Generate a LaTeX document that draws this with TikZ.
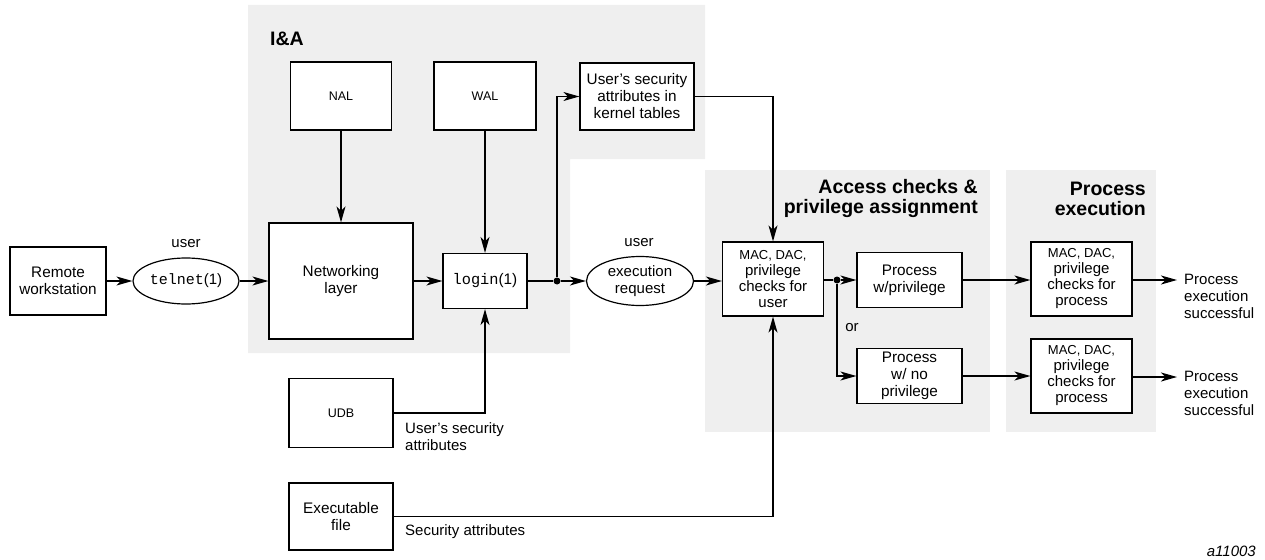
\documentclass[tikz,border=0pt]{standalone}
\usepackage{fontspec}
\setmainfont{Liberation Sans}
\newfontfamily\mono{Liberation Mono}
\usetikzlibrary{arrows.meta,shapes.geometric}
\definecolor{zone}{RGB}{239,239,239}
\tikzset{
  box/.style={draw, line width=1.2pt, fill=white, inner sep=0pt, align=center,
    font=\fontsize{15.3}{17}\selectfont},
  smallbox/.style={box, font=\fontsize{12.5}{15}\selectfont},
  checkbox/.style={box, minimum width=101pt, minimum height=74pt,
    font=\fontsize{15}{16}\selectfont},
  oval/.style={ellipse, draw, line width=1.2pt, fill=white, inner sep=0pt, align=center,
    font=\fontsize{15}{17}\selectfont},
  lbl/.style={inner sep=0pt, align=left, font=\fontsize{15}{17}\selectfont},
  title/.style={inner sep=0pt, align=right, font={\bfseries\fontsize{19.5}{20}\selectfont}},
  arr/.style={line width=1.2pt, -{Stealth[length=16pt,width=9pt,inset=4.5pt]}},
  wire/.style={line width=1.2pt},
  junction/.style={circle, fill, inner sep=0pt, minimum size=7pt},
}
\begin{document}
\begin{tikzpicture}[x=1pt,y=-1pt]
\useasboundingbox (0,0) rectangle (1265,559);

% shaded zones
\fill[zone] (248,5) -- (705,5) -- (705,159) -- (570,159) -- (570,353) -- (248,353) -- cycle;
\fill[zone] (705,170) rectangle (990,432);
\fill[zone] (1006,170) rectangle (1156,432);

% zone titles
\node[title, anchor=west] (tIA) at (270,39) {I\&A};
\node[title, anchor=east] (tAC) at (978,198.5) {Access checks \&\\privilege assignment};
\node[title, anchor=east] (tPE) at (1146,198.5) {Process\\execution};

% login path
\node[box, minimum width=96pt, minimum height=68pt] (rw) at (58,281) {Remote\\workstation};
\node[oval, minimum width=106pt, minimum height=46pt] (telnet) at (186,281) {{\mono telnet}(1)};
\node[lbl] (user1) at (186,244) {user};
\node[box, minimum width=144pt, minimum height=116pt] (net) at (341,281) {Networking\\layer};
\node[smallbox, minimum width=101pt, minimum height=68pt] (nal) at (341,96) {NAL};
\node[smallbox, minimum width=102pt, minimum height=68pt] (wal) at (485,96) {WAL};
\node[box, minimum width=114pt, minimum height=67pt] (usa) at (637,96.5) {User's security\\attributes in\\kernel tables};
\node[box, minimum width=84pt, minimum height=55pt] (login) at (485,281) {{\mono login}(1)};
\node[junction] (dot1) at (557,281) {};
\node[lbl] (user2) at (639,243) {user};
\node[oval, minimum width=107pt, minimum height=49pt] (exreq) at (640,281) {execution\\request};

% access checks
\node[checkbox] (mac) at (773,279) {{\fontsize{13}{16}\selectfont MAC, DAC,}\\privilege\\checks for\\user};
\node[junction] (dot2) at (837,280) {};
\node[box, minimum width=105pt, minimum height=55pt] (pwp) at (909.5,280) {Process\\w/privilege};
\node[box, minimum width=105pt, minimum height=55pt] (pnp) at (909.5,376) {Process\\w/ no\\privilege};
\node[lbl] (or) at (852,328) {or};

% process execution
\node[checkbox] (mac1) at (1081.5,279) {{\fontsize{13}{16}\selectfont MAC, DAC,}\\privilege\\checks for\\process};
\node[checkbox] (mac2) at (1081.5,376) {{\fontsize{13}{16}\selectfont MAC, DAC,}\\privilege\\checks for\\process};
\coordinate (out1) at (1177,280);
\coordinate (out2) at (1177,377);
\node[lbl, anchor=west] (ok1) at (1184,296) {Process\\execution\\successful};
\node[lbl, anchor=west] (ok2) at (1184,393) {Process\\execution\\successful};

% attribute sources
\node[smallbox, minimum width=104pt, minimum height=69pt] (udb) at (341,413) {UDB};
\node[box, minimum width=104pt, minimum height=67pt] (exe) at (341,516.5) {Executable\\file};
\node[lbl, anchor=west] (udbl) at (405,437) {User's security\\attributes};
\node[lbl, anchor=west] (exel) at (405,532) {Security attributes};

\node[inner sep=0pt, anchor=east, font=\itshape\fontsize{15}{17}\selectfont] (fig) at (1256,551) {a11003};

% connectors
\draw[arr] (rw) -- (telnet);
\draw[arr] (telnet) -- (net);
\draw[arr] (net) -- (login);
\draw[arr] (nal) -- (net);
\draw[arr] (wal) -- (login);
\draw[arr] (udb) -| (login);
\draw[wire] (login) -- (dot1);
\draw[arr] (dot1) |- (usa);
\draw[arr] (dot1) -- (exreq);
\draw[arr] (exreq) -- (mac.west |- exreq);
\draw[arr] (usa) -| (mac);
\draw[arr] (exe) -| (mac);
\draw[wire] (mac.east |- dot2) -- (dot2);
\draw[arr] (dot2) -- (pwp);
\draw[arr] (dot2) |- (pnp);
\draw[arr] (pwp) -- (mac1.west |- pwp);
\draw[arr] (pnp) -- (mac2.west |- pnp);
\draw[arr] (mac1.east |- out1) -- (out1);
\draw[arr] (mac2.east |- out2) -- (out2);
\end{tikzpicture}
\end{document}
